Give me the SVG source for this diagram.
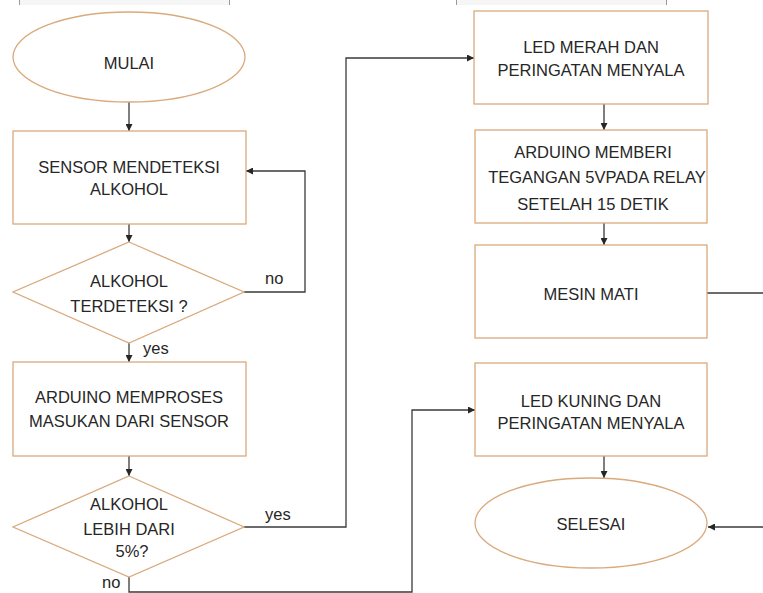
<svg xmlns="http://www.w3.org/2000/svg" width="763" height="593" viewBox="0 0 763 593">
<defs>
<marker id="ah" viewBox="0 0 10 10" refX="10" refY="5" markerWidth="7" markerHeight="7" markerUnits="userSpaceOnUse" orient="auto">
<path d="M0,0 L10,5 L0,10 z" fill="#262626"/>
</marker>
<style>
.shape{fill:#ffffff;stroke:#d9aa7c;stroke-width:1.3}
.conn{fill:none;stroke:#3a3a3a;stroke-width:1.3}
.arr{marker-end:url(#ah)}
.t{font-family:"Liberation Sans",Arial,sans-serif;font-size:16.5px;fill:#262626;text-anchor:middle}
.lbl{font-family:"Liberation Sans",Arial,sans-serif;font-size:16.5px;fill:#262626}
.top{fill:#f6f6f6;stroke:none}
.topedge{stroke:#9a9a9a;stroke-width:1}
</style>
</defs>
<rect width="763" height="593" fill="#ffffff"/>
<g id="header">
<rect class="top" x="19" y="0" width="210" height="5"/>
<line class="topedge" x1="19.5" y1="0" x2="19.5" y2="5"/>
<line class="topedge" x1="229.5" y1="0" x2="229.5" y2="5"/>
<rect class="top" x="456" y="0" width="210" height="5"/>
<line class="topedge" x1="456.5" y1="0" x2="456.5" y2="5"/>
<line class="topedge" x1="666.5" y1="0" x2="666.5" y2="5"/>
</g>
<g id="connectors">
<line class="conn arr" x1="129" y1="102" x2="129" y2="131"/>
<line class="conn arr" x1="129" y1="224" x2="129" y2="242"/>
<polyline class="conn arr" points="244,292 305,292 305,171 246,171"/>
<line class="conn arr" x1="129" y1="343" x2="129" y2="362"/>
<line class="conn arr" x1="129" y1="456" x2="129" y2="476"/>
<polyline class="conn arr" points="244,527 346,527 346,58 474,58"/>
<polyline class="conn arr" points="129,577 129,592 412,592 412,410 475,410"/>
<line class="conn arr" x1="604" y1="104" x2="604" y2="130"/>
<line class="conn arr" x1="604" y1="223" x2="604" y2="245"/>
<line class="conn" x1="707" y1="293" x2="763" y2="293"/>
<line class="conn arr" x1="604" y1="456" x2="604" y2="478"/>
<line class="conn arr" x1="763" y1="527" x2="708" y2="527"/>
<text class="lbl" x="265" y="284">no</text>
<text class="lbl" x="143" y="354">yes</text>
<text class="lbl" x="265" y="520">yes</text>
<text class="lbl" x="102" y="588">no</text>
</g>
<g id="mulai">
<ellipse class="shape" cx="129" cy="57" rx="116" ry="45"/>
<text class="t" x="129" y="69">MULAI</text>
</g>
<g id="sensor">
<rect class="shape" x="13" y="131" width="233" height="93"/>
<text class="t" x="129" y="173">SENSOR MENDETEKSI</text>
<text class="t" x="129" y="195">ALKOHOL</text>
</g>
<g id="terdeteksi">
<polygon class="shape" points="129,242 244,292 129,343 13,292"/>
<text class="t" x="129" y="287">ALKOHOL</text>
<text class="t" x="129" y="312">TERDETEKSI ?</text>
</g>
<g id="memproses">
<rect class="shape" x="13" y="362" width="233" height="94"/>
<text class="t" x="129" y="403">ARDUINO MEMPROSES</text>
<text class="t" x="129" y="427">MASUKAN DARI SENSOR</text>
</g>
<g id="lebih">
<polygon class="shape" points="129,476 244,527 129,577 13,527"/>
<text class="t" x="129" y="510">ALKOHOL</text>
<text class="t" x="129" y="535">LEBIH DARI</text>
<text class="t" x="132" y="557">5%?</text>
</g>
<g id="ledmerah">
<rect class="shape" x="474" y="11" width="234" height="93"/>
<text class="t" x="591" y="53">LED MERAH DAN</text>
<text class="t" x="591" y="76">PERINGATAN MENYALA</text>
</g>
<g id="memberi">
<rect class="shape" x="475" y="130" width="232" height="93"/>
<text class="t" x="593" y="158">ARDUINO MEMBERI</text>
<text class="t" x="597" y="183">TEGANGAN 5VPADA RELAY</text>
<text class="t" x="593" y="210">SETELAH 15 DETIK</text>
</g>
<g id="mesinmati">
<rect class="shape" x="475" y="245" width="232" height="93"/>
<text class="t" x="591" y="300">MESIN MATI</text>
</g>
<g id="ledkuning">
<rect class="shape" x="475" y="363" width="232" height="93"/>
<text class="t" x="591" y="407">LED KUNING DAN</text>
<text class="t" x="591" y="429">PERINGATAN MENYALA</text>
</g>
<g id="selesai">
<ellipse class="shape" cx="591" cy="523" rx="116" ry="45"/>
<text class="t" x="591" y="530">SELESAI</text>
</g>
</svg>
